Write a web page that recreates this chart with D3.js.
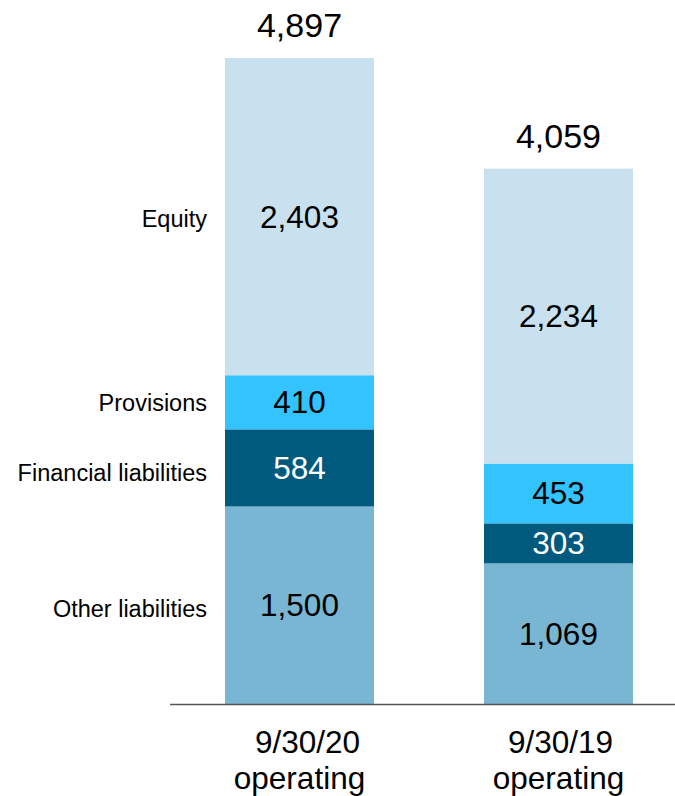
<!DOCTYPE html>
<html><head><meta charset="utf-8">
<script src="https://cdn.jsdelivr.net/npm/d3@7"></script>
<style>body{margin:0;background:#fff}svg{display:block}text{font-family:"Liberation Sans",Arial,sans-serif}</style>
</head><body>
<svg id="c" width="675" height="796"></svg>
<script>
const categories = ["9/30/20 operating", "9/30/19 operating"];
const seriesNames = ["Other liabilities", "Financial liabilities", "Provisions", "Equity"];
const otherLiabilities = [1500, 1069];
const financialLiabilities = [584, 303];
const provisions = [410, 453];
const equity = [2403, 2234];
const totals = [4897, 4059];
const colors = ["#78B6D3", "#005A7D", "#33C3FF", "#C9E1EE"];
const labelColors = ["#000", "#fff", "#000", "#000"];

const svg = d3.select("#c");
const baseY = 704.5;
const y = d3.scaleLinear().domain([0, 4897]).range([baseY, 58]);
const x = d3.scaleBand().domain(categories).range([225, 633]).paddingInner(0.4247).paddingOuter(0);
const bw = x.bandwidth();

const rows = categories.map((c, i) => ({cat: c, "Other liabilities": otherLiabilities[i], "Financial liabilities": financialLiabilities[i], "Provisions": provisions[i], "Equity": equity[i]}));
const stack = d3.stack().keys(seriesNames)(rows);
const fmt = d3.format(",");

stack.forEach((layer, k) => {
  const g = svg.append("g");
  layer.forEach((d) => {
    const cx = x(d.data.cat);
    g.append("rect").attr("x", cx).attr("width", bw)
      .attr("y", y(d[1])).attr("height", y(d[0]) - y(d[1])).attr("fill", colors[k]);
    g.append("text").attr("x", cx + bw / 2).attr("y", (y(d[0]) + y(d[1])) / 2 + 11)
      .attr("text-anchor", "middle").attr("font-size", 31.5).attr("fill", labelColors[k])
      .text(fmt(d[1] - d[0]));
  });
});

totals.forEach((t, i) => {
  svg.append("text").attr("x", x(categories[i]) + bw / 2).attr("y", y(t) - 21)
    .attr("text-anchor", "middle").attr("font-size", 34).attr("fill", "#000").text(fmt(t));
});

// series labels to the left of the first bar
const labelOffsets = [4, 5, 1, 2];
stack.forEach((layer, k) => {
  const d = layer[0];
  svg.append("text").attr("x", 207).attr("y", (y(d[0]) + y(d[1])) / 2 + 8 + labelOffsets[k])
    .attr("text-anchor", "end").attr("font-size", 23.5).attr("fill", "#000").text(seriesNames[k]);
});

svg.append("line").attr("x1", 170).attr("x2", 675).attr("y1", baseY).attr("y2", baseY)
  .attr("stroke", "#555").attr("stroke-width", 1.3);

categories.forEach((c, i) => {
  const parts = c.split(" ");
  const cx = x(c) + bw / 2;
  const t = svg.append("text").attr("text-anchor", "middle").attr("font-size", 31.5).attr("fill", "#000");
  t.append("tspan").attr("x", cx + (i === 0 ? 8 : 2)).attr("y", 753).text(parts[0]);
  t.append("tspan").attr("x", cx).attr("y", 789).text(parts[1]);
});
</script>
</body></html>
